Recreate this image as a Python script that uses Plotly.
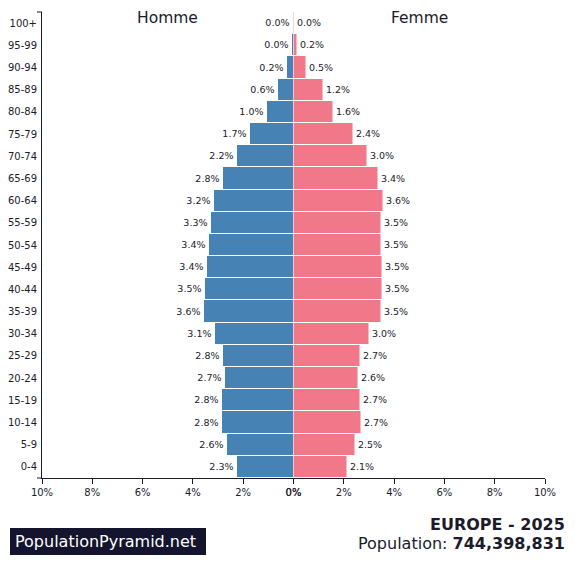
import plotly.graph_objects as go

# age groups, bottom to top
ages = ['0-4', '5-9', '10-14', '15-19', '20-24', '25-29', '30-34', '35-39',
        '40-44', '45-49', '50-54', '55-59', '60-64', '65-69', '70-74',
        '75-79', '80-84', '85-89', '90-94', '95-99', '100+']

# share of total population, %
male = [2.26, 2.63, 2.84, 2.83, 2.74, 2.82, 3.13, 3.57, 3.51, 3.44, 3.36,
        3.28, 3.17, 2.79, 2.24, 1.71, 1.04, 0.63, 0.24, 0.04, 0.01]
female = [2.14, 2.48, 2.69, 2.68, 2.60, 2.67, 3.03, 3.49, 3.53, 3.52, 3.51,
          3.51, 3.56, 3.39, 2.96, 2.39, 1.58, 1.21, 0.53, 0.16, 0.02]

pct_ticks = [0, 2, 4, 6, 8, 10]
pct_labels = [f"{t}%" for t in pct_ticks]

title = 'EUROPE - 2025'
population = '744,398,831'

FONT = 'DejaVu Sans'
INK = '#1b1b2b'
W, H = 575, 581
ML, MR, MT, MB = 42, 30, 12, 103
plot_w = W - ML - MR
plot_h = H - MT - MB


def px_x(x):
    return (x - ML) / plot_w


def px_y(y):
    return (H - MB - y) / plot_h


fig = go.Figure()

fig.add_trace(go.Bar(
    y=ages, x=male, orientation='h', xaxis='x', yaxis='y',
    marker=dict(color='#4682b4', line=dict(color='white', width=1)),
    text=[f"{v:.1f}%" for v in male], textposition='outside',
    textfont=dict(family=FONT, size=9.5, color=INK),
    cliponaxis=False, hoverinfo='skip', showlegend=False,
))
fig.add_trace(go.Bar(
    y=ages, x=female, orientation='h', xaxis='x2', yaxis='y',
    marker=dict(color='#f07889', line=dict(color='white', width=1)),
    text=[f"{v:.1f}%" for v in female], textposition='outside',
    textfont=dict(family=FONT, size=9.5, color=INK),
    cliponaxis=False, hoverinfo='skip', showlegend=False,
))

axis_common = dict(
    tickvals=pct_ticks, ticktext=pct_labels, showline=True, linecolor=INK,
    linewidth=1, ticks='outside', ticklen=5, tickcolor=INK, showgrid=False,
    zeroline=False, tickfont=dict(family=FONT, size=10, color=INK),
    fixedrange=True,
)

fig.update_layout(
    width=W, height=H,
    margin=dict(l=ML, r=MR, t=MT, b=MB, autoexpand=False),
    paper_bgcolor='white', plot_bgcolor='white',
    bargap=0,
    font=dict(family=FONT, color=INK),
    xaxis=dict(domain=[0, 0.5], range=[10, 0], anchor='y', **axis_common),
    xaxis2=dict(domain=[0.5, 1], range=[0, 10], anchor='y', **axis_common),
    yaxis=dict(
        categoryorder='array', categoryarray=ages, showline=True,
        linecolor=INK, linewidth=1, ticks='outside', ticklen=2,
        tickcolor='white', showgrid=False, zeroline=False,
        tickfont=dict(family=FONT, size=10, color=INK), fixedrange=True,
    ),
)

# outer ticks on the y axis line
for yy in (MT, H - MB):
    fig.add_shape(type='line', xref='paper', yref='paper',
                  x0=px_x(37), x1=0, y0=px_y(yy), y1=px_y(yy),
                  line=dict(color=INK, width=1))

# logo box
fig.add_shape(type='rect', xref='paper', yref='paper',
              x0=px_x(10), x1=px_x(206), y0=px_y(555), y1=px_y(528),
              fillcolor='#14142e', line=dict(width=0), layer='below')

fig.add_annotation(text='Homme', xref='x domain', yref='paper', x=0.5,
                   y=px_y(18), yanchor='middle', showarrow=False,
                   font=dict(family=FONT, size=15.5, color=INK))
fig.add_annotation(text='Femme', xref='x2 domain', yref='paper', x=0.5,
                   y=px_y(18), yanchor='middle', showarrow=False,
                   font=dict(family=FONT, size=15.5, color=INK))

fig.add_annotation(text=f"<b>{title}</b>", xref='paper', yref='paper',
                   x=px_x(567), y=px_y(524), xanchor='right', yanchor='middle',
                   showarrow=False, font=dict(family=FONT, size=16, color=INK))
fig.add_annotation(text=f"Population: <b>{population}</b>", xref='paper',
                   yref='paper', x=px_x(567), y=px_y(543), xanchor='right',
                   yanchor='middle', showarrow=False,
                   font=dict(family=FONT, size=16, color=INK))
fig.add_annotation(text='PopulationPyramid.net', xref='paper', yref='paper',
                   x=px_x(13), y=px_y(541.5), xanchor='left', yanchor='middle',
                   showarrow=False,
                   font=dict(family=FONT, size=16, color='white'))

fig.write_html("out.html", config={'displayModeBar': False},
               post_script="document.body.style.margin='0';")
